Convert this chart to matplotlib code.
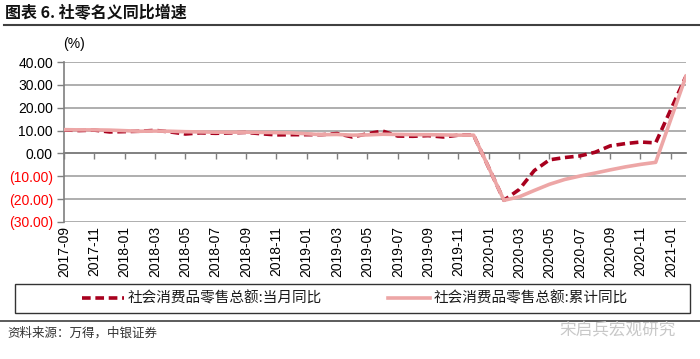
import numpy as np
import matplotlib
matplotlib.use("Agg")
import matplotlib.pyplot as plt
from matplotlib.lines import Line2D
from matplotlib.patches import Rectangle

plt.rcParams['font.family'] = ['Liberation Sans', 'Noto Sans CJK SC', 'DejaVu Sans']
CJK = ['Noto Sans CJK SC', 'DejaVu Sans']

months = ['2017-09', '2017-10', '2017-11', '2017-12',
          '2018-01', '2018-02', '2018-03', '2018-04', '2018-05', '2018-06',
          '2018-07', '2018-08', '2018-09', '2018-10', '2018-11', '2018-12',
          '2019-01', '2019-02', '2019-03', '2019-04', '2019-05', '2019-06',
          '2019-07', '2019-08', '2019-09', '2019-10', '2019-11', '2019-12',
          '2020-01', '2020-02', '2020-03', '2020-04', '2020-05', '2020-06',
          '2020-07', '2020-08', '2020-09', '2020-10', '2020-11', '2020-12',
          '2021-01', '2021-02']

monthly_yoy = [10.3, 10.0, 10.2, 9.4,
               np.nan, 9.7, 10.1, 9.4, 8.5, 9.0,
               8.8, 9.0, 9.2, 8.6, 8.1, 8.2,
               np.nan, 8.2, 8.7, 7.2, 8.6, 9.8,
               7.6, 7.5, 7.8, 7.2, 8.0, 8.0,
               np.nan, -20.5, -15.8, -7.5, -2.8, -1.8,
               -1.1, 0.5, 3.3, 4.3, 5.0, 4.6,
               np.nan, 33.8]

cumulative_yoy = [10.4, 10.3, 10.3, 10.2,
                  np.nan, 9.7, 9.8, 9.7, 9.5, 9.4,
                  9.3, 9.3, 9.3, 9.2, 9.1, 9.0,
                  np.nan, 8.2, 8.3, 8.0, 8.1, 8.4,
                  8.3, 8.2, 8.2, 8.1, 8.0, 8.0,
                  np.nan, -20.5, -19.0, -16.2, -13.5, -11.4,
                  -9.9, -8.6, -7.2, -5.9, -4.8, -3.9,
                  np.nan, 33.8]

series_names = ['社会消费品零售总额:当月同比', '社会消费品零售总额:累计同比']
y_ticks = [40, 30, 20, 10, 0, -10, -20, -30]

W, H = 700, 359
fig = plt.figure(figsize=(7.0, 3.59), dpi=100)
fig.patch.set_facecolor('white')

ax = fig.add_axes([64 / W, 137 / H, 622 / W, 160 / H])

x = np.arange(len(months))
m1 = np.array(monthly_yoy, dtype=float)
m2 = np.array(cumulative_yoy, dtype=float)
k1 = ~np.isnan(m1)
k2 = ~np.isnan(m2)

l1, = ax.plot(x[k1], m1[k1], color='#A8001E', lw=2.6, ls=(0, (2.4, 1.3)),
              solid_capstyle='butt', dash_capstyle='butt', zorder=3)
l2, = ax.plot(x[k2], m2[k2], color='#EDA6A6', lw=2.6, zorder=4)

ax.set_xlim(0, len(months) - 1)
ax.set_ylim(-30, 40)
ax.set_yticks(y_ticks)
ax.set_yticklabels([f"{v:.2f}" if v >= 0 else f"({-v:.2f})" for v in y_ticks])
for lab, v in zip(ax.get_yticklabels(), y_ticks):
    lab.set_color('#FF0000' if v < 0 else 'black')
ax.tick_params(axis='y', direction='out', length=5, width=1, color='#7f7f7f',
               labelsize=10, pad=3)

ax.yaxis.grid(True, color='#a8a8a8', lw=1.3)
ax.set_axisbelow(True)
for s in ['top', 'right']:
    ax.spines[s].set_visible(False)
ax.spines['left'].set_color('#7f7f7f')
ax.spines['left'].set_linewidth(1.2)
ax.spines['bottom'].set_position(('data', 0))
ax.spines['bottom'].set_color('#7f7f7f')
ax.spines['bottom'].set_linewidth(1.3)

tick_pos = x[::2]
ax.set_xticks(tick_pos)
ax.set_xticklabels([''] * len(tick_pos))
ax.tick_params(axis='x', direction='out', length=4, width=1, color='#7f7f7f')

sec = ax.secondary_xaxis(0)
sec.set_xticks(tick_pos)
sec.set_xticklabels([months[i] for i in tick_pos], rotation=90)
sec.tick_params(axis='x', length=0, labelsize=10, pad=3)
sec.spines['bottom'].set_visible(False)

fig.text(63 / W, 1 - 44 / H, '(%)', fontsize=10, va='center', ha='left')

# title and rules
fig.text(5 / W, 1 - 13 / H, '图表 6. 社零名义同比增速', fontsize=11.5,
         fontweight='bold', family=CJK, va='center', ha='left', color='#111111')
fig.add_artist(Line2D([4 / W, 1.0], [1 - 25 / H, 1 - 25 / H],
                      transform=fig.transFigure, color='#404040', lw=1.5))
fig.add_artist(Line2D([0.0, 1.0], [1 - 321 / H, 1 - 321 / H],
                      transform=fig.transFigure, color='#404040', lw=1.2))

# legend box
fig.patches.append(Rectangle((15 / W, 1 - 313 / H), 675 / W, 29 / H,
                             transform=fig.transFigure, fill=False,
                             ec='#333333', lw=1.0))
leg = ax.legend([l1, l2], series_names, loc='center',
                bbox_to_anchor=(355 / W, 1 - 298.5 / H),
                bbox_transform=fig.transFigure, ncol=2, frameon=False,
                prop={'family': CJK, 'size': 10.5}, handlelength=2.9,
                handletextpad=0.25, columnspacing=4.5,
                labelcolor='#1a1a1a')

fig.text(7 / W, 1 - 333 / H, '资料来源：万得，中银证券', fontsize=9,
         family=CJK, style='italic', va='center', ha='left', color='#333333')
fig.text(676 / W, 1 - 330 / H, '宋启兵宏观研究', fontsize=12,
         family=CJK, va='center', ha='right', color='#c8c8c8')

fig.savefig('out.png', dpi=100, facecolor='white')
